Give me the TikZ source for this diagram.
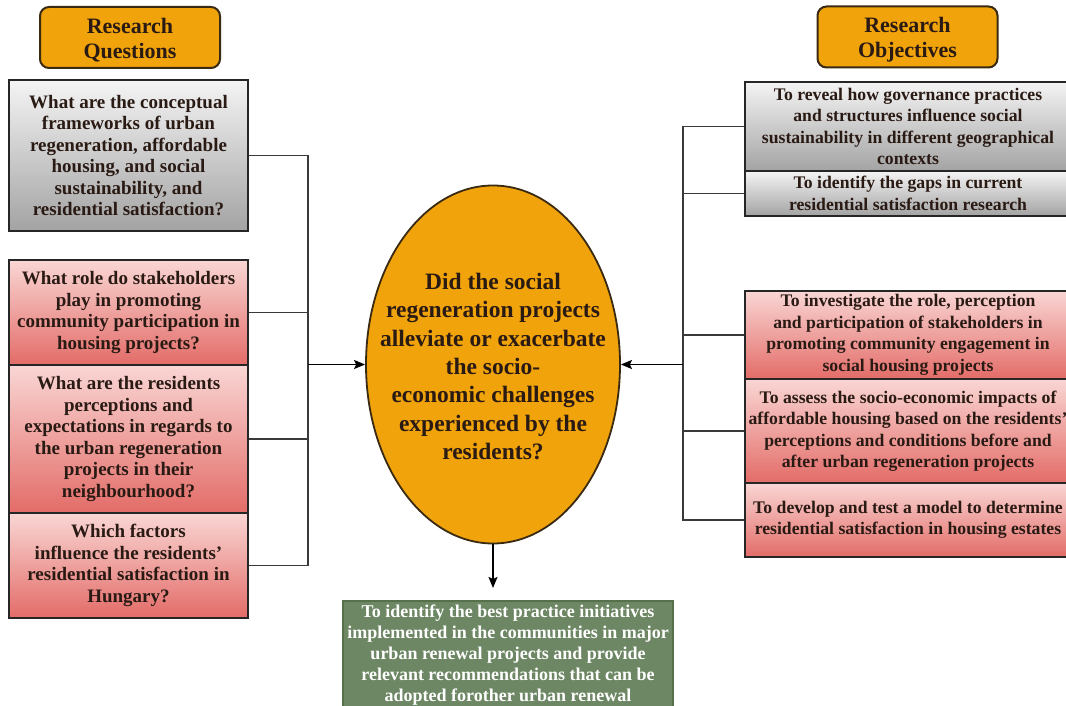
\documentclass[tikz,border=0pt]{standalone}
\usepackage{fontspec}
\setmainfont{Liberation Serif}
\usetikzlibrary{shapes.geometric,arrows.meta}

\definecolor{ink}{HTML}{2A1A14}
\definecolor{amber}{HTML}{F0A30A}
\definecolor{amberline}{HTML}{3A2A12}
\definecolor{olive}{HTML}{6D8764}
\definecolor{oliveline}{HTML}{56704C}
\definecolor{greytop}{HTML}{F4F4F4}
\definecolor{greybot}{HTML}{A3A3A3}
\definecolor{redtop}{HTML}{F9D6D4}
\definecolor{redbot}{HTML}{E36C68}
\definecolor{wire}{HTML}{3A3A3A}

\begin{document}
\begin{tikzpicture}[x=1pt,y=-1pt,
  header/.style={rectangle, rounded corners=9pt, fill=amber, draw=amberline,
    line width=2pt, minimum width=180pt, minimum height=61pt, inner sep=0pt,
    align=center, text=ink, font=\bfseries\fontsize{22}{25}\selectfont},
  boxbase/.style={rectangle, draw=black!85, line width=2pt, inner sep=0pt,
    align=center, text=ink},
  greybox/.style={top color=greytop, bottom color=greybot},
  redbox/.style={top color=redtop, bottom color=redbot},
  question/.style={boxbase, minimum width=239pt,
    font=\bfseries\fontsize{19}{21.5}\selectfont},
  objective/.style={boxbase, minimum width=326pt,
    font=\bfseries\fontsize{17.7}{21.5}\selectfont},
  hub/.style={ellipse, fill=amber, draw=amberline, line width=1.8pt,
    minimum width=254pt, minimum height=358pt, inner sep=0pt},
  hubtext/.style={align=center, text=ink, inner sep=0pt,
    font=\bfseries\fontsize{23.5}{28.3}\selectfont},
  goal/.style={rectangle, fill=olive, draw=oliveline, line width=2pt,
    minimum width=330pt, minimum height=108pt, inner sep=0pt,
    align=center, text=white, font=\bfseries\fontsize{18}{21}\selectfont},
  conn/.style={draw=wire, line width=1.5pt},
  feed/.style={draw=black, line width=1.5pt, -{Stealth[length=11pt,width=9pt,inset=2pt]}}
]
% page
\path[use as bounding box, fill=white] (0,0) rectangle (1066,706);

% column headings
\node[header] (hq) at (130,37.5) {\rule{0pt}{21pt}Research\\Questions};
\node[header] (ho) at (907.5,37) {\rule{0pt}{21pt}Research\\Objectives};

% research questions
\node[question, greybox, minimum height=151pt] (q1) at (128.5,155.5)
  {What are the conceptual\\ frameworks of urban\\ regeneration, affordable\\ housing, and social\\ sustainability, and\\ residential satisfaction?};
\node[question, redbox, minimum height=105pt] (q2) at (128.5,312.5)
  {What role do stakeholders\\ play in promoting\\ community participation in\\ housing projects?};
\node[question, redbox, minimum height=148pt] (q3) at (128.5,439)
  {What are the residents\\ perceptions and\\ expectations in regards to\\ the urban regeneration\\ projects in their\\ neighbourhood?};
\node[question, redbox, minimum height=105pt] (q4) at (128.5,565.5)
  {Which factors\\ influence the residents'\\ residential satisfaction in\\ Hungary?};

% research objectives
\node[objective, greybox, minimum height=89pt] (o1) at (908,126.5)
  {To reveal how governance practices\\ and structures influence social\\ sustainability in different geographical\\ contexts};
\node[objective, greybox, minimum height=45pt] (o2) at (908,193.5)
  {To identify the gaps in current\\ residential satisfaction research};
\node[objective, redbox, minimum height=88pt] (o3) at (908,335)
  {To investigate the role, perception\\ and participation of stakeholders in\\ promoting community engagement in\\ social housing projects};
\node[objective, redbox, minimum height=104pt] (o4) at (908,431)
  {To assess the socio-economic impacts of\\ affordable housing based on the residents'\\ perceptions and conditions before and\\ after urban regeneration projects};
\node[objective, redbox, minimum height=74pt] (o5) at (908,520)
  {To develop and test a model to determine\\ residential satisfaction in housing estates};

% central question
\node[hub] (hubq) at (493,364.5) {};
\node[hubtext] (hubqtext) at (493,366.5)
  {Did the social\\ regeneration projects\\ alleviate or exacerbate\\ the socio-\\ economic challenges\\ experienced by the\\ residents?};

% outcome
\node[goal] (goal) at (508,655)
  {To identify the best practice initiatives\\ implemented in the communities in major\\ urban renewal projects and provide\\ relevant recommendations that can be\\ adopted forother urban renewal};

% connectors
\coordinate (lj) at (308,364.5);
\coordinate (rj) at (683,364.5);
\coordinate (tip) at (493,588);
\foreach \n in {q1,q2,q3,q4} \draw[conn] (\n.east) -| (lj);
\foreach \n in {o1,o2,o3,o4,o5} \draw[conn] (\n.west) -| (rj);
\draw[feed] (lj) -- (hubq.west);
\draw[feed] (rj) -- (hubq.east);
\draw[feed] (hubq.south) -- (tip);
\end{tikzpicture}
\end{document}
